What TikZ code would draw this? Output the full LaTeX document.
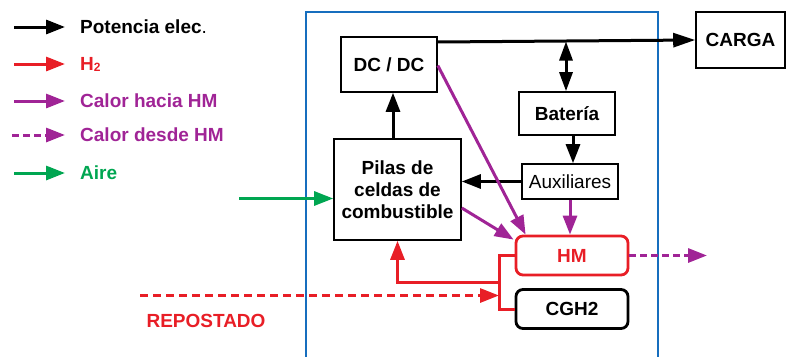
\documentclass[tikz,border=0pt]{standalone}
\usepackage{fontspec}
\setmainfont{Liberation Sans}
\usetikzlibrary{arrows.meta}
\definecolor{cred}{RGB}{232,30,38}
\definecolor{cpur}{RGB}{160,36,150}
\definecolor{cgrn}{RGB}{0,166,81}
\definecolor{cblu}{RGB}{22,110,190}
\begin{document}
\begin{tikzpicture}[x=1pt,y=-1pt,
  txt/.style={font=\fontsize{19}{22}\selectfont\bfseries, inner sep=0pt, anchor=west},
  box/.style={draw, line width=1.6pt, align=center, inner sep=0pt, font=\fontsize{19}{22}\selectfont\bfseries},
  rbox/.style={draw, rounded corners=7pt, line width=2.8pt, inner sep=0pt, font=\fontsize{19}{22}\selectfont\bfseries},
  tip/.style={-{Triangle[length=19pt,width=14pt]}},
  arr/.style={line width=3pt, tip},
  darr/.style={line width=3pt, {Triangle[length=19pt,width=13pt]}-{Triangle[length=19pt,width=13pt]}},
  parr/.style={line width=3pt, cpur, tip},
  rline/.style={line width=3pt, cred},
]
\useasboundingbox (0,0) rectangle (786,356);
% legend
\coordinate (l1a) at (14,27); \coordinate (l1b) at (65,27);
\coordinate (l2a) at (14,64); \coordinate (l2b) at (65,64);
\coordinate (l3a) at (14,101); \coordinate (l3b) at (65,101);
\coordinate (l4a) at (12,135); \coordinate (l4b) at (65,135);
\coordinate (l5a) at (14,173); \coordinate (l5b) at (65,173);
\draw[arr] (l1a) -- (l1b);
\draw[arr, cred] (l2a) -- (l2b);
\draw[arr, cpur] (l3a) -- (l3b);
\draw[arr, cpur, dash pattern=on 7pt off 4pt] (l4a) -- (l4b);
\draw[arr, cgrn] (l5a) -- (l5b);
\node[txt] (t1) at (80,27) {Potencia elec\textmd{.}};
\node[txt, cred] (t2) at (80,64) {H\raisebox{-1pt}{\fontsize{12}{12}\selectfont 2}};
\node[txt, cpur] (t3) at (80,101) {Calor hacia HM};
\node[txt, cpur] (t4) at (80,135) {Calor desde HM};
\node[txt, cgrn] (t5) at (80,173) {Aire};
% frame
\draw[cblu, line width=2.2pt] (306,362) -- (306,12) -- (658,12) -- (658,362);
% boxes
\node[box, minimum width=96pt, minimum height=55pt] (dcdc) at (389,64.5) {DC / DC};
\node[box, minimum width=89pt, minimum height=56pt] (carga) at (740.5,40) {CARGA};
\node[box, minimum width=96pt, minimum height=43pt] (batt) at (567,113.5) {Batería};
\node[box, minimum width=96pt, minimum height=35pt, font=\fontsize{19}{22}\selectfont] (aux) at (570,181.5) {Auxiliares};
\node[box, minimum width=127pt, minimum height=101pt] (pilas) at (397.5,189.5) {Pilas de\\celdas de\\combustible};
\node[rbox, cred, minimum width=112pt, minimum height=39pt] (hm) at (572,255.5) {HM};
\node[rbox, minimum width=112pt, minimum height=39pt] (cgh) at (572,309) {CGH2};
% black connectors
\draw[arr, -{Triangle[length=22pt,width=14pt]}] ([yshift=22.5pt]dcdc.east) -- (carga.west);
\coordinate (bus) at (566,41.5);
\draw[darr] (bus) -- (bus |- batt.north);
\draw[arr] ([xshift=6pt]batt.south) -- ([xshift=3pt]aux.north);
\draw[arr] (aux.west) -- (aux.west -| pilas.east);
\draw[arr] ([xshift=-4.5pt]pilas.north) -- ([xshift=4pt]dcdc.south);
% air
\coordinate (aire) at (239,198.5);
\draw[arr, cgrn] (aire) -- (aire -| pilas.west);
% heat
\draw[parr] ([yshift=-1pt]dcdc.east) -- ([xshift=11pt]hm.north west);
\draw[parr] ([yshift=-18.5pt]pilas.east) -- ([xshift=-1pt,yshift=-5pt]hm.north west);
\draw[parr] (aux.south) -- (aux.south |- hm.north);
\coordinate (hout) at (707,255.5);
\draw[parr, dash pattern=on 7pt off 4pt] (hm.east) -- (hout);
% hydrogen
\coordinate (rj) at (499,282);
\draw[rline] (hm.west) -- (hm.west -| rj) -- (cgh.west -| rj) -- (cgh.west);
\draw[rline, tip] (rj) -| (pilas.south);
\coordinate (rep) at (140,295.5);
\draw[rline, tip, dash pattern=on 8pt off 5pt] (rep) -- (rep -| rj);
\node[txt, cred, anchor=center] (repl) at (206,321) {REPOSTADO};
\end{tikzpicture}
\end{document}
